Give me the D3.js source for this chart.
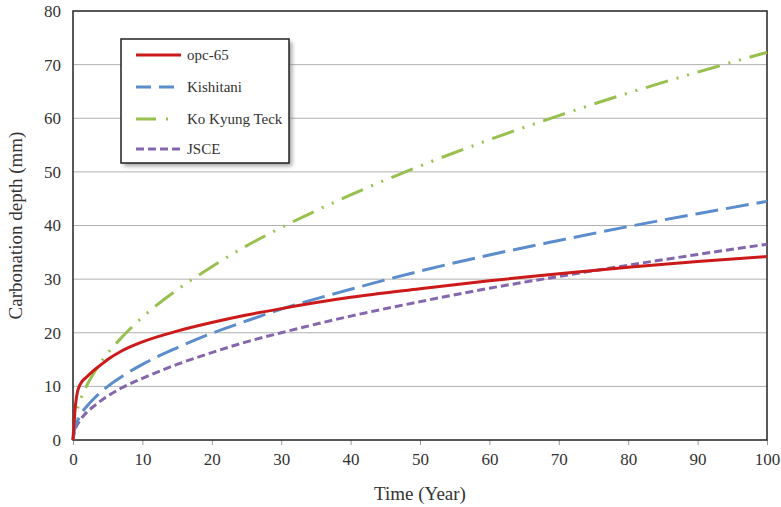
<!DOCTYPE html>
<html>
<head>
<meta charset="utf-8">
<script src="https://cdn.jsdelivr.net/npm/d3@7"></script>
<style>
  body { margin: 0; background: #fff; }
  svg text { font-family: "Liberation Serif", "DejaVu Serif", serif; fill: #333; }
</style>
</head>
<body>
<svg id="chart_svg"></svg>
<script>
var years = [0, 0.25, 0.5, 1, 2, 3, 4, 5, 7, 10, 15, 20, 25, 30, 40, 50, 60, 70, 80, 90, 100];
var opc65 = [0, 5, 8, 10.3, 11.8, 13, 14, 15, 16.6, 18.3, 20.3, 21.9, 23.3, 24.5, 26.6, 28.2, 29.7, 31, 32.2, 33.3, 34.2];
var kishitani = [0, 2.2, 3.1, 4.5, 6.3, 7.7, 8.9, 10, 11.8, 14.1, 17.2, 19.9, 22.2, 24.4, 28.1, 31.5, 34.5, 37.2, 39.8, 42.2, 44.5];
var koKyungTeck = [0, 3.6, 5.1, 7.2, 10.2, 12.5, 14.5, 16.2, 19.1, 22.9, 28, 32.3, 36.2, 39.6, 45.7, 51.1, 56, 60.5, 64.7, 68.6, 72.3];
var jsce = [0, 1.8, 2.6, 3.65, 5.2, 6.3, 7.3, 8.2, 9.7, 11.5, 14.1, 16.3, 18.3, 20, 23.1, 25.8, 28.3, 30.5, 32.6, 34.6, 36.5];

var seriesNames = ['opc-65', 'Kishitani', 'Ko Kyung Teck', 'JSCE'];
var xTicks = [0, 10, 20, 30, 40, 50, 60, 70, 80, 90, 100];
var yTicks = [0, 10, 20, 30, 40, 50, 60, 70, 80];

var margin = {top: 11, right: 14, bottom: 67, left: 73};
var totalW = 781, totalH = 507;
var width = totalW - margin.left - margin.right;
var height = totalH - margin.top - margin.bottom;

var svg = d3.select('#chart_svg')
  .attr('width', totalW)
  .attr('height', totalH);

var g = svg.append('g')
  .attr('transform', 'translate(' + margin.left + ',' + margin.top + ')');

var x = d3.scaleLinear().domain([0, 100]).range([0, width]);
var y = d3.scaleLinear().domain([0, 80]).range([height, 0]);

// gridlines
g.selectAll('.grid')
  .data(yTicks.filter(function(d) { return d > 0 && d < 80; }))
  .enter()
  .append('line')
  .attr('x1', 0)
  .attr('x2', width)
  .attr('y1', function(d) { return y(d); })
  .attr('y2', function(d) { return y(d); })
  .style('stroke', '#b0b0b0')
  .style('stroke-width', 1);

var xAxis = d3.axisBottom(x)
  .tickValues(xTicks)
  .tickSize(5)
  .tickSizeOuter(0)
  .tickPadding(8);

var yAxis = d3.axisLeft(y)
  .tickValues(yTicks)
  .tickSize(0)
  .tickPadding(12);

var xAxisGroup = g.append('g')
  .attr('transform', 'translate(0,' + height + ')')
  .call(xAxis);
xAxisGroup.select('.domain').remove();
xAxisGroup.selectAll('line').style('stroke', '#999');
xAxisGroup.selectAll('text')
  .style('font-size', '17px')
  .style('font-family', '"Liberation Serif", serif')
  .style('fill', '#333');

var yAxisGroup = g.append('g').call(yAxis);
yAxisGroup.select('.domain').remove();
yAxisGroup.selectAll('text')
  .style('font-size', '17px')
  .style('font-family', '"Liberation Serif", serif')
  .style('fill', '#333');

// frame
g.append('rect')
  .attr('width', width)
  .attr('height', height)
  .style('fill', 'none')
  .style('stroke', '#222')
  .style('stroke-width', 1.5);

var series = [
  {name: seriesNames[0], values: opc65, color: '#cc1a1a', dash: null, w: 3},
  {name: seriesNames[1], values: kishitani, color: '#5b8ccc', dash: '23,8', w: 3},
  {name: seriesNames[2], values: koKyungTeck, color: '#98c04e', dash: '23,9,2,9,2,9', w: 3},
  {name: seriesNames[3], values: jsce, color: '#8566ad', dash: '8,4', w: 3}
];

var line = d3.line()
  .x(function(d) { return x(d[0]); })
  .y(function(d) { return y(d[1]); })
  .curve(d3.curveMonotoneX);

g.selectAll('.series')
  .data(series.slice().reverse())
  .enter()
  .append('path')
  .attr('d', function(s) {
    return line(years.map(function(t, i) { return [t, s.values[i]]; }));
  })
  .style('fill', 'none')
  .style('stroke', function(s) { return s.color; })
  .style('stroke-width', function(s) { return s.w; })
  .style('stroke-dasharray', function(s) { return s.dash; });

// axis titles
svg.append('text')
  .attr('x', margin.left + width / 2)
  .attr('y', 500)
  .style('text-anchor', 'middle')
  .style('font-size', '19px')
  .text('Time (Year)');

svg.append('text')
  .attr('transform', 'translate(22,' + (margin.top + height / 2) + ') rotate(-90)')
  .style('text-anchor', 'middle')
  .style('font-size', '19px')
  .text('Carbonation depth (mm)');

// legend
var defs = svg.append('defs');
var filt = defs.append('filter').attr('id', 'shadow').attr('x', '-10%').attr('y', '-10%')
  .attr('width', '130%').attr('height', '130%');
filt.append('feGaussianBlur').attr('stdDeviation', 2);

var lx = 121, ly = 39, lw = 168, lh = 124;
svg.append('rect')
  .attr('x', lx + 3).attr('y', ly + 3)
  .attr('width', lw).attr('height', lh)
  .style('fill', '#777')
  .style('opacity', 0.7)
  .attr('filter', 'url(#shadow)');
svg.append('rect')
  .attr('x', lx).attr('y', ly)
  .attr('width', lw).attr('height', lh)
  .style('fill', '#fff')
  .style('stroke', '#222')
  .style('stroke-width', 1.5);

var legendY = [55, 87, 119, 149];
var leg = svg.selectAll('.legend')
  .data(series)
  .enter()
  .append('g')
  .attr('transform', function(s, i) { return 'translate(0,' + legendY[i] + ')'; });

leg.append('line')
  .attr('x1', 136).attr('x2', 181)
  .attr('y1', 0).attr('y2', 0)
  .style('stroke', function(s) { return s.color; })
  .style('stroke-width', 3)
  .style('stroke-dasharray', function(s, i) {
    return ['none', '15,8', '20,10,2,13', '8,4'][i];
  });

leg.append('text')
  .attr('x', 187)
  .attr('y', 0)
  .attr('dy', '0.35em')
  .style('font-size', '15px')
  .text(function(s) { return s.name; });
</script>
</body>
</html>
